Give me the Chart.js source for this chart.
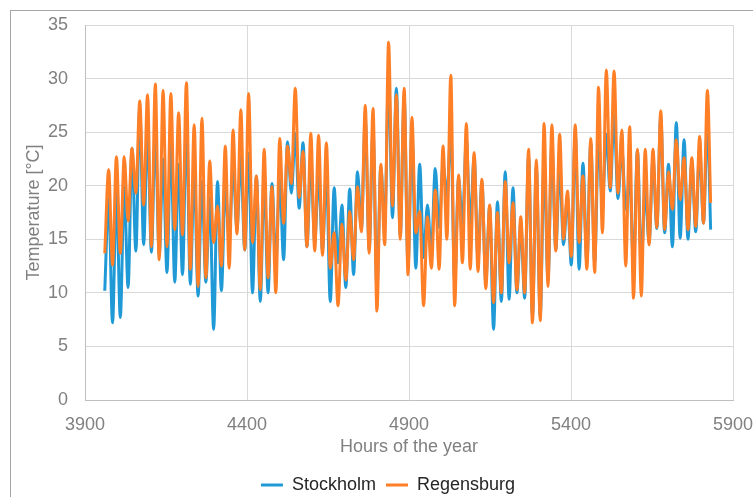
<!DOCTYPE html>
<html>
<head>
<meta charset="utf-8">
<script src="https://cdn.jsdelivr.net/npm/chart.js@4.4.0/dist/chart.umd.min.js"></script>
<style>
  html, body { margin: 0; padding: 0; background: #fff; }
  #wrap { position: relative; width: 753px; height: 497px; overflow: hidden; }
  #frame { position: absolute; left: 10px; top: 10px; width: 800px; height: 600px; border: 1px solid #a6a6a6; box-sizing: border-box; }
  #chartBox { position: absolute; left: 0; top: 0; width: 753px; height: 497px; }
</style>
</head>
<body>
<div id="wrap">
  <div id="frame"></div>
  <div id="chartBox"><canvas id="tempChart" width="753" height="497"></canvas></div>
</div>
<script>
// x ticks (hours) and y ticks (deg C)
const xTicks = [3900, 4400, 4900, 5400, 5900];
const yTicks = [0, 5, 10, 15, 20, 25, 30, 35];

// one morning low and one afternoon high per day
const firstLowHour = 3961;
const firstHighHour = 3973;
const lastHour = 5831;

const stockholmLows = [
  10.2, 7.2, 7.7, 10.5, 13.9, 14.5, 13.8, 13.5, 11.9, 11.0, 11.7, 10.8, 9.7,
  11.0, 6.6, 10.2, 15.0, 15.9, 14.0, 10.0, 9.2, 10.0, 12.8, 13.1, 19.3, 17.9,
  14.3, 14.7, 14.0, 9.2, 12.8, 10.5, 11.7, 15.9, 14.0, 10.3, 16.2, 17.0, 15.3,
  12.5, 12.3, 13.3, 13.7, 16.1, 19.0, 11.0, 16.5, 16.2, 13.1, 10.9, 6.6, 9.2, 9.4,
  10.0, 9.5, 7.8, 7.8, 11.2, 14.0, 14.5, 12.6, 12.2, 12.8, 12.8, 18.5, 19.5, 18.8,
  17.8, 12.5, 12.9, 14.7, 16.0, 15.6, 14.3, 15.1, 15.0, 15.7, 16.5
];
const stockholmHighs = [
  18.8, 19.5, 19.9, 23.5, 27.3, 25.2, 25.1, 22.5, 24.3, 22.0, 26.0, 21.5, 20.4,
  18.9, 20.4, 19.9, 21.8, 22.7, 23.0, 20.9, 21.0, 20.2, 20.6, 24.1, 24.9, 24.0,
  22.4, 21.0, 21.3, 19.8, 18.2, 19.7, 21.3, 26.2, 25.2, 21.8, 30.2, 29.1, 28.3,
  25.0, 22.0, 18.2, 21.6, 22.0, 25.2, 20.7, 24.3, 22.7, 20.4, 18.1, 18.5, 21.3, 19.8,
  16.5, 22.8, 21.8, 22.4, 24.0, 21.8, 19.0, 24.9, 22.1, 24.0, 24.3, 24.8, 26.6, 23.4,
  20.7, 23.3, 19.6, 22.5, 26.5, 22.0, 25.9, 24.3, 22.2, 23.5, 25.8
];
const stockholmEnd = 15.9;

const regensburgLows = [
  13.7, 12.6, 13.7, 16.7, 19.3, 18.2, 14.3, 13.1, 14.3, 15.9, 15.4, 12.2, 10.6,
  11.4, 14.7, 12.5, 12.3, 15.5, 14.0, 14.7, 10.3, 11.4, 10.0, 16.5, 20.2, 18.9,
  14.3, 13.9, 13.5, 12.3, 8.8, 11.2, 13.1, 15.7, 13.7, 8.3, 14.5, 18.1, 15.0,
  11.7, 15.6, 8.8, 12.3, 12.2, 15.0, 8.8, 12.8, 12.2, 12.0, 10.4, 9.1, 10.0, 12.8,
  10.3, 10.0, 7.2, 7.4, 10.6, 13.9, 15.0, 13.4, 14.7, 12.2, 11.9, 15.6, 19.8, 19.3,
  12.5, 9.5, 9.7, 14.5, 16.1, 15.9, 17.8, 18.7, 15.9, 16.2, 16.5
];
const regensburgHighs = [
  21.5, 22.7, 22.7, 23.5, 27.9, 28.5, 29.5, 28.9, 28.6, 26.8, 29.6, 25.7, 26.3,
  22.3, 18.1, 23.7, 25.2, 27.1, 28.6, 20.9, 23.4, 19.9, 24.4, 23.7, 29.1, 23.2,
  24.9, 24.7, 24.0, 15.6, 16.4, 17.6, 19.9, 27.5, 27.2, 22.0, 33.4, 28.5, 29.1,
  26.4, 17.6, 17.1, 19.6, 23.7, 30.3, 21.0, 25.8, 23.1, 20.6, 18.2, 17.5, 20.4, 18.4,
  17.1, 23.4, 22.4, 25.8, 25.7, 24.8, 19.5, 25.7, 20.9, 24.4, 29.2, 30.8, 30.7, 25.2,
  25.5, 23.4, 23.4, 23.4, 27.0, 21.3, 24.3, 22.6, 22.6, 24.6, 28.9
];
const regensburgEnd = 18.4;

function buildSeries(lows, highs, endValue) {
  const points = [];
  for (let d = 0; d < highs.length; d++) {
    points.push({ x: firstLowHour + d * 24, y: lows[d] });
    points.push({ x: firstHighHour + d * 24, y: highs[d] });
  }
  points.push({ x: lastHour, y: endValue });
  return points;
}

const font = 'Liberation Sans, Arial, sans-serif';
const grey = '#808080';

new Chart(document.getElementById('tempChart'), {
  type: 'line',
  data: {
    datasets: [{
      label: 'Stockholm',
      data: buildSeries(stockholmLows, stockholmHighs, stockholmEnd),
      borderColor: '#1f9ad6',
      backgroundColor: '#1f9ad6',
      borderWidth: 3,
      pointRadius: 0,
      cubicInterpolationMode: 'monotone',
      order: 2
    }, {
      label: 'Regensburg',
      data: buildSeries(regensburgLows, regensburgHighs, regensburgEnd),
      borderColor: '#ff7f27',
      backgroundColor: '#ff7f27',
      borderWidth: 3,
      pointRadius: 0,
      cubicInterpolationMode: 'monotone',
      order: 1
    }]
  },
  options: {
    responsive: false,
    animation: false,
    layout: { autoPadding: false, padding: { left: 43, right: 20, top: 25, bottom: -7 } },
    plugins: {
      tooltip: { enabled: false },
      legend: {
        position: 'bottom',
        labels: {
          usePointStyle: true,
          pointStyle: 'line',
          pointStyleWidth: 22,
          color: '#262626',
          font: { family: font, size: 18 },
          padding: 10,
          sort: (a, b) => a.datasetIndex - b.datasetIndex
        }
      }
    },
    scales: {
      x: {
        type: 'linear',
        min: xTicks[0],
        max: xTicks[xTicks.length - 1],
        afterBuildTicks: (s) => { s.ticks = xTicks.map(v => ({ value: v })); },
        grid: { color: '#d9d9d9', drawTicks: false },
        border: { color: '#bfbfbf' },
        ticks: { color: grey, font: { family: font, size: 18 }, padding: 14, callback: (v) => String(v) },
        title: { display: true, text: 'Hours of the year', color: grey, font: { family: font, size: 18 }, padding: { top: 0, bottom: 8 } },
        afterFit: (s) => { s.height = 66; s.paddingLeft = 0; s.paddingRight = 0; }
      },
      y: {
        min: yTicks[0],
        max: yTicks[yTicks.length - 1],
        afterBuildTicks: (s) => { s.ticks = yTicks.map(v => ({ value: v })); },
        grid: { color: '#d9d9d9', drawTicks: false },
        border: { color: '#bfbfbf' },
        ticks: { color: grey, font: { family: font, size: 18 }, padding: 17 },
        title: { display: true, text: 'Temperature [°C]', color: grey, font: { family: font, size: 18 }, padding: { top: -20, bottom: 0 } },
        afterFit: (s) => { s.width = 42; s.paddingTop = 0; s.paddingBottom = 0; }
      }
    }
  }
});
</script>
</body>
</html>
